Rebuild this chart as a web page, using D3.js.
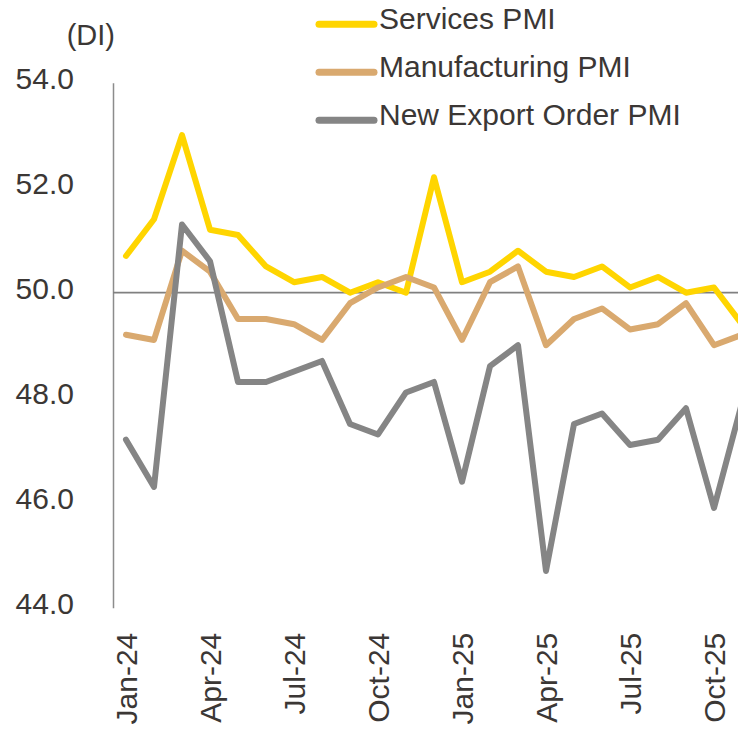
<!DOCTYPE html>
<html>
    <head>
        <meta charset="utf-8">
        <title> PMI </title>
        <script type="text/javascript" src="https://d3js.org/d3.v7.min.js"></script>
        <style>
            body { margin: 0; background: #fff; }
            svg text { font-family: "Liberation Sans", Arial, sans-serif; fill: #3b3735; }
        </style>
    </head>
    <body>
        <script>

            // monthly readings, Jan-24 .. Nov-25 (last point runs off the right edge)
            var months = ["Jan-24","Feb-24","Mar-24","Apr-24","May-24","Jun-24","Jul-24","Aug-24","Sep-24","Oct-24","Nov-24","Dec-24",
                          "Jan-25","Feb-25","Mar-25","Apr-25","May-25","Jun-25","Jul-25","Aug-25","Sep-25","Oct-25","Nov-25"];
            var services      = [50.7,51.4,53.0,51.2,51.1,50.5,50.2,50.3,50.0,50.2,50.0,52.2,50.2,50.4,50.8,50.4,50.3,50.5,50.1,50.3,50.0,50.1,49.4];
            var manufacturing = [49.2,49.1,50.8,50.4,49.5,49.5,49.4,49.1,49.8,50.1,50.3,50.1,49.1,50.2,50.5,49.0,49.5,49.7,49.3,49.4,49.8,49.0,49.2];
            var newExport     = [47.2,46.3,51.3,50.6,48.3,48.3,48.5,48.7,47.5,47.3,48.1,48.3,46.4,48.6,49.0,44.7,47.5,47.7,47.1,47.2,47.8,45.9,47.9];
            var tickLabels = ["Jan-24","Apr-24","Jul-24","Oct-24","Jan-25","Apr-25","Jul-25","Oct-25"];
            var yTicks = [44,46,48,50,52,54];

            var series = [
                {name: "Services PMI", values: services, color: "#ffd500"},
                {name: "Manufacturing PMI", values: manufacturing, color: "#d9a96f"},
                {name: "New Export Order PMI", values: newExport, color: "#858585"}
            ];

            var width = 738, height = 729;

            var svg = d3.select("body").append("svg")
                        .attr("width", width)
                        .attr("height", height);

            var x = d3.scalePoint().domain(months).range([126, 742]);
            var y = d3.scaleLinear().domain([44, 54]).range([607.7, 82.7]);
            var axisX = 113;

            // y axis
            var yAxis = svg.append("g")
                        .attr("transform", "translate(" + axisX + ",0)")
                        .call(d3.axisLeft(y).tickValues(yTicks).tickFormat(d3.format(".1f"))
                                .tickSize(0).tickSizeOuter(0).tickPadding(39));
            yAxis.select(".domain").attr("stroke", "#8c8c8c").attr("stroke-width", 1.5);
            yAxis.selectAll("text")
                 .attr("dy", "0.18em")
                 .style("font-size", "30px")
                 .style("font-family", null);

            // 50 line
            svg.append("line")
               .attr("x1", axisX).attr("x2", width)
               .attr("y1", y(50)).attr("y2", y(50))
               .attr("stroke", "#808080")
               .attr("stroke-width", 1.8);

            // x axis labels
            var xAxis = svg.append("g")
                        .attr("transform", "translate(0," + y(44) + ")")
                        .call(d3.axisBottom(x).tickValues(tickLabels).tickSize(0).tickSizeOuter(0));
            xAxis.select(".domain").remove();
            xAxis.selectAll("text")
                 .attr("y", 0)
                 .attr("dy", "0.36em")
                 .attr("transform", "translate(0,25) rotate(-90)")
                 .attr("text-anchor", "end")
                 .style("font-size", "30px")
                 .style("font-family", null);

            // unit label
            svg.append("text")
               .attr("x", 115).attr("y", 45)
               .attr("text-anchor", "end")
               .style("font-size", "29px")
               .text("(DI)");

            var line = d3.line()
                         .x(function(d, i) { return x(months[i]); })
                         .y(function(d) { return y(d); });

            svg.selectAll(".series")
               .data(series)
               .enter()
               .append("path")
               .attr("class", "series")
               .attr("d", function(d) { return line(d.values); })
               .attr("fill", "none")
               .attr("stroke", function(d) { return d.color; })
               .attr("stroke-width", 6)
               .attr("stroke-linejoin", "round")
               .attr("stroke-linecap", "round");

            // legend
            var legend = svg.selectAll(".legend")
                            .data(series)
                            .enter()
                            .append("g")
                            .attr("class", "legend")
                            .attr("transform", function(d, i) { return "translate(319," + (24.3 + i * 48) + ")"; });

            legend.append("line")
                  .attr("x1", 0).attr("x2", 55)
                  .attr("stroke", function(d) { return d.color; })
                  .attr("stroke-width", 7)
                  .attr("stroke-linecap", "round");

            legend.append("text")
                  .attr("x", 60).attr("y", 5)
                  .style("font-size", "30px")
                  .text(function(d) { return d.name; });

        </script>
    </body>
</html>
